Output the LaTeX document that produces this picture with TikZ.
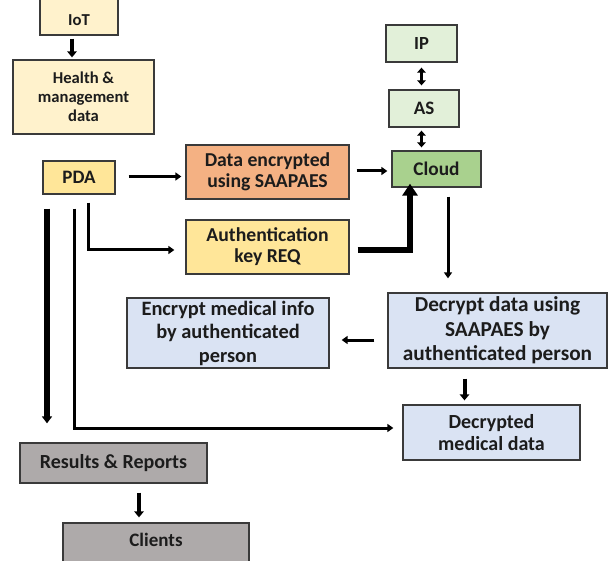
\documentclass[tikz,border=0pt]{standalone}
\usepackage{fontspec}
\setmainfont{Carlito}
\usetikzlibrary{calc,arrows.meta}
\definecolor{lyel}{HTML}{FFF2CC}
\definecolor{dyel}{HTML}{FFE699}
\definecolor{orng}{HTML}{F4B183}
\definecolor{lgrn}{HTML}{E2F0D9}
\definecolor{dgrn}{HTML}{A9D18E}
\definecolor{lblu}{HTML}{DAE3F3}
\definecolor{gry}{HTML}{AEAAAA}
\definecolor{bord}{HTML}{3A3A3A}
\definecolor{txt}{HTML}{1C1C1C}
\newcommand{\fs}[2]{\fontsize{#1}{#2}\selectfont\bfseries}
\tikzset{
  box/.style={draw=bord, line width=1.3pt, inner sep=0pt, align=center, text=txt, font=\bfseries},
  arr/.style={line width=3pt, -{Triangle[length=6pt,width=8pt]}},
  barr/.style={line width=4pt, -{Triangle[length=6pt,width=9.5pt]}},
  darr/.style={line width=3.2pt, {Triangle[length=5pt,width=8.5pt]}-{Triangle[length=5pt,width=8.5pt]}},
  tarr/.style={line width=6.5pt, -{Triangle[length=12pt,width=15pt]}},
}
\begin{document}
\begin{tikzpicture}[x=1pt,y=-1pt]
\useasboundingbox (0,0) rectangle (610,561);
\clip (0,0) rectangle (610,561);
\fill[white] (0,0) rectangle (610,561);
% nodes
\node[box, fill=lyel, minimum width=78, minimum height=45, label={[text=txt, yshift=-8pt]center:\fs{16.7}{19}IoT}] (iot) at (79,12.5) {};
\node[box, fill=lyel, minimum width=141, minimum height=74, font=\fs{16.6}{19}] (health) at (83.5,97) {Health \&\\management\\data};
\node[box, fill=dyel, minimum width=72, minimum height=33, font=\fs{19}{20}] (pda) at (79,177.5) {PDA};
\node[box, fill=orng, minimum width=163, minimum height=54, font=\fs{19.7}{21}] (enc) at (267.5,172) {Data encrypted\\using SAAPAES};
\node[box, fill=dyel, minimum width=163, minimum height=54, font=\fs{19.7}{21}] (auth) at (267.5,247) {Authentication\\key REQ};
\node[box, fill=lgrn, minimum width=71, minimum height=37, font=\fs{18.5}{20}] (ip) at (421.5,43.5) {IP};
\node[box, fill=lgrn, minimum width=70, minimum height=37, font=\fs{19}{20}] (as) at (424,108.5) {AS};
\node[box, fill=dgrn, minimum width=89, minimum height=36, font=\fs{19.3}{20}] (cloud) at (436.5,169) {Cloud};
\node[box, fill=lblu, minimum width=219, minimum height=75, font=\fs{21.3}{24.5}] (dec) at (497.5,330.5) {Decrypt data using\\SAAPAES by\\authenticated person};
\node[box, fill=lblu, minimum width=202, minimum height=70, font=\fs{20.4}{23.5}] (encm) at (228,333) {Encrypt medical info\\by authenticated\\person};
\node[box, fill=lblu, minimum width=177, minimum height=55, font=\fs{20}{21.5}] (decd) at (491.5,432.5) {Decrypted\\medical data};
\node[box, fill=gry, minimum width=187, minimum height=40, font=\fs{20}{21}] (res) at (113.5,463) {Results \& Reports};
\node[box, fill=gry, minimum width=186, minimum height=44, label={[text=txt, yshift=5pt]center:\fs{19}{20}Clients}] (cli) at (156,545) {};
% connectors
\draw[barr] ($(iot.south)+(-7,3)$) -- ($(iot.south |- health.north)+(-7,-2)$);
\draw[arr] ($(pda.east)+(13,-1)$) -- ($(pda.east -| enc.west)+(-4,-1)$);
\draw[arr] ($(enc.east)+(7,-1)$) -- ($(enc.east -| cloud.west)+(-4,-1)$);
\draw[arr] ($(pda.south)+(9,8)$) |- ($(auth.west)+(-11,3)$);
\draw[tarr] ($(auth.east)+(8,3)$) -| ($(cloud.south)+(-26.5,-4)$);
\draw[darr] ($(ip.south)+(0,5)$) -- ($(ip.south |- as.north)+(0,-4)$);
\draw[darr] ($(as.south -| ip.south)+(0,3)$) -- ($(ip.south |- cloud.north)+(0,-3)$);
\draw[arr] ($(cloud.south)+(11.5,9)$) -- ($(cloud.south |- dec.north)+(11.5,-14)$);
\draw[arr] ($(dec.west)+(-13,9.5)$) -- ($(dec.west -| encm.east)+(12,9.5)$);
\draw[barr] ($(dec.south)+(-33,10)$) -- ($(dec.south |- decd.north)+(-33,-4)$);
\draw[line width=5.5pt, -{Triangle[length=7pt,width=10pt]}] ($(pda.south)+(-32,14)$) -- ($(pda.south |- res.north)+(-32,-19)$);
\draw[arr] ($(pda.south)+(-5,14)$) |- ($(decd.west)+(-9,-4.5)$);
\draw[barr] ($(res.south)+(25.5,9)$) -- ($(res.south |- cli.north)+(25.5,-5)$);
\end{tikzpicture}
\end{document}
